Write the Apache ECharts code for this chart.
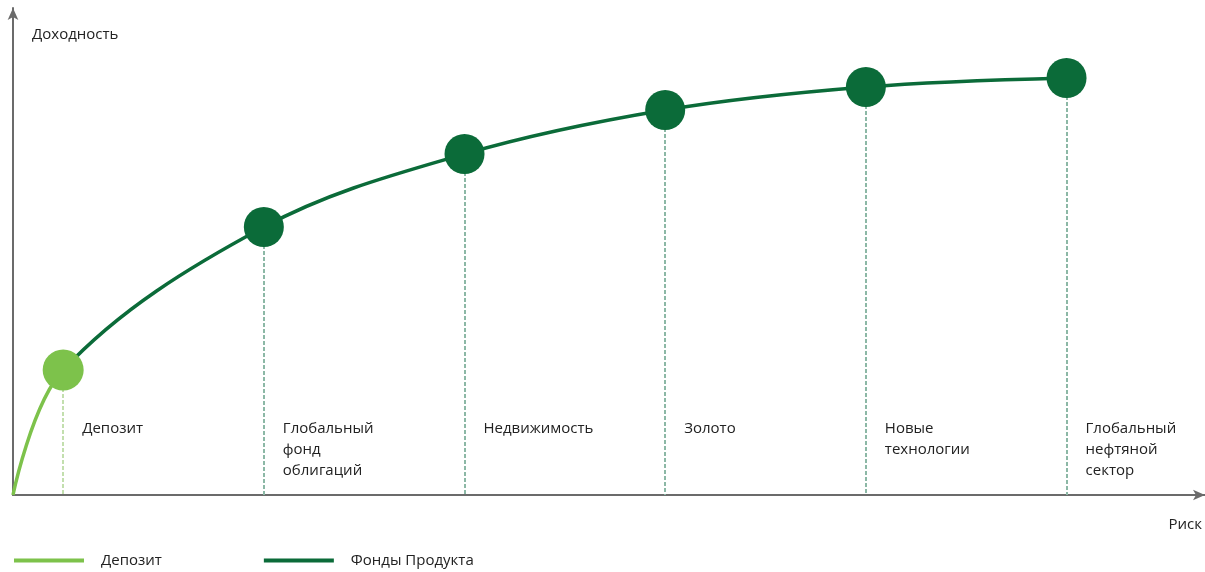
<!DOCTYPE html>
<html>
<head>
<meta charset="utf-8">
<script src="https://cdn.jsdelivr.net/npm/echarts@6/dist/echarts.min.js"></script>
<style>
  html, body { margin: 0; padding: 0; background: #fff; }
  #chart { width: 1205px; height: 572px; }
</style>
</head>
<body>
<div id="chart"></div>
<script>
// риск (ось X) и доходность (ось Y), первая точка — начало координат
const riskX = [0, 0.25, 1.25, 2.25, 3.25, 4.25, 5.25];
const returnY = [0, 125, 268, 341, 385, 408, 417];
const productNames = ['', 'Депозит', 'Глобальный\nфонд\nоблигаций', 'Недвижимость', 'Золото', 'Новые\nтехнологии', 'Глобальный\nнефтяной\nсектор'];

const COLORS = { light: '#7dc24b', dark: '#0b6b39', axis: '#6b6b6b', text: '#222', dashLight: '#c3dfae', dashDark: '#8cb8a6' };
const FONT = 'Open Sans';

const curve = riskX.map((x, i) => [x, returnY[i]]);
const depositPts = curve.slice(1, 2);
const fundPts = curve.slice(2);

// пунктир от точки до оси X
const dropLines = (pts, color) => ({
  silent: true,
  symbol: 'none',
  z: 1,
  label: { show: false },
  lineStyle: { color, width: 2, type: [4, 2], opacity: 1 },
  data: pts.map((p) => [{ coord: p }, { coord: [p[0], 0] }]),
});

const chart = echarts.init(document.getElementById('chart'), null, { renderer: 'canvas' });

chart.setOption({
  animation: false,
  backgroundColor: '#fff',
  textStyle: { fontFamily: FONT },
  grid: { left: 13, right: 0, top: 8, bottom: 77 },
  xAxis: {
    type: 'value', min: 0, max: 5.94,
    name: 'Риск',
    nameLocation: 'end',
    nameGap: -3,
    nameTextStyle: { color: COLORS.text, fontSize: 15, fontFamily: FONT, align: 'right', verticalAlign: 'top', padding: [22, 0, 0, 0] },
    axisLine: { lineStyle: { color: COLORS.axis, width: 2 }, symbol: ['none', 'arrow'], symbolSize: [8, 12] },
    axisTick: { show: false }, axisLabel: { show: false }, splitLine: { show: false },
  },
  yAxis: {
    type: 'value', min: 0, max: 487,
    name: 'Доходность',
    nameLocation: 'end',
    nameGap: -34,
    nameTextStyle: { color: COLORS.text, fontSize: 15, fontFamily: FONT, align: 'left', padding: [0, 0, 0, 19] },
    axisLine: { show: true, lineStyle: { color: COLORS.axis, width: 2 }, symbol: ['none', 'arrow'], symbolSize: [8, 12] },
    axisTick: { show: false }, axisLabel: { show: false }, splitLine: { show: false },
  },
  legend: {
    left: 14, top: 553, padding: 0,
    icon: 'rect', itemWidth: 70, itemHeight: 4, itemGap: 102,
    textStyle: { color: COLORS.text, fontSize: 15, fontFamily: FONT, padding: [0, 0, 0, 12] },
    data: [
      { name: 'Депозит', itemStyle: { color: COLORS.light } },
      { name: 'Фонды Продукта', itemStyle: { color: COLORS.dark } },
    ],
  },
  series: [
    {
      name: 'Фонды Продукта',
      type: 'line',
      data: curve,
      smooth: 0.35,
      showSymbol: false,
      lineStyle: { width: 3.5, color: COLORS.dark },
      itemStyle: { color: COLORS.dark },
      z: 3,
    },
    {
      name: 'Депозит',
      type: 'scatter',
      data: depositPts,
      symbolSize: 41,
      itemStyle: { color: COLORS.light, opacity: 1 },
      markLine: dropLines(depositPts, COLORS.dashLight),
      z: 4,
    },
    {
      name: 'Фонды Продукта',
      type: 'scatter',
      data: fundPts,
      symbolSize: 40,
      itemStyle: { color: COLORS.dark, opacity: 1 },
      markLine: dropLines(fundPts, COLORS.dashDark),
      z: 4,
    },
    {
      name: 'names',
      type: 'scatter',
      silent: true,
      symbolSize: 0,
      itemStyle: { opacity: 1 },
      data: riskX.slice(1).map((x, i) => ({ value: [x, 0], name: productNames[i + 1] })),
      label: {
        show: true,
        position: [19, -77],
        formatter: '{b}',
        color: COLORS.text,
        fontSize: 15,
        fontFamily: FONT,
        lineHeight: 21,
        align: 'left',
        verticalAlign: 'top',
      },
      z: 2,
    },
  ],
});

// участок кривой до депозита — светло-зелёный
const splitPx = chart.convertToPixel({ gridIndex: 0 }, [riskX[1], 0])[0];
const t = splitPx / chart.getWidth();
chart.setOption({
  series: [{
    lineStyle: {
      color: new echarts.graphic.LinearGradient(0, 0, chart.getWidth(), 0, [
        { offset: 0, color: COLORS.light },
        { offset: t, color: COLORS.light },
        { offset: t, color: COLORS.dark },
        { offset: 1, color: COLORS.dark },
      ], true),
    },
  }],
});
</script>
</body>
</html>
